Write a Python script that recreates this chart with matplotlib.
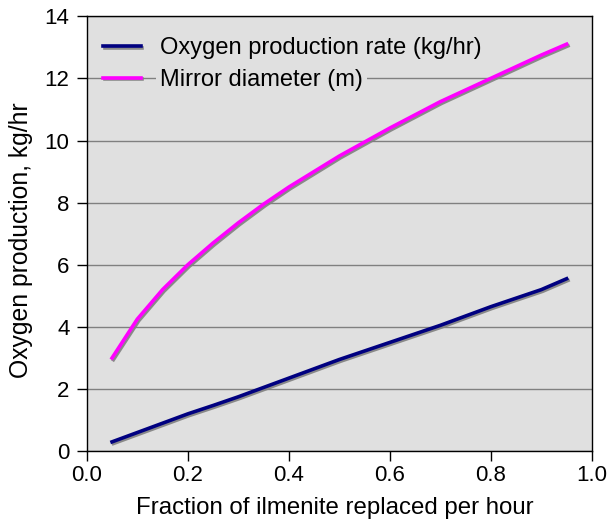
import matplotlib
matplotlib.use('Agg')
import matplotlib.pyplot as plt
import matplotlib.patheffects as pe

plt.rcParams['font.family'] = ['Liberation Sans', 'DejaVu Sans']

# fraction of ilmenite replaced per hour
fraction = [0.05, 0.1, 0.15, 0.2, 0.25, 0.3, 0.35, 0.4, 0.5, 0.6, 0.7, 0.8, 0.9, 0.95]
# oxygen production rate (kg/hr)
oxygen_rate = [0.3, 0.6, 0.9, 1.2, 1.47, 1.75, 2.05, 2.35, 2.95, 3.5, 4.05, 4.65, 5.2, 5.55]
# mirror diameter (m)
mirror_diam = [3.0, 4.25, 5.2, 6.0, 6.7, 7.35, 7.95, 8.5, 9.5, 10.4, 11.25, 12.0, 12.75, 13.1]

xticks = [0.0, 0.2, 0.4, 0.6, 0.8, 1.0]
yticks = [0, 2, 4, 6, 8, 10, 12, 14]

fig = plt.figure(figsize=(6.07, 5.24), dpi=100)
ax = fig.add_axes([0.143, 0.139, 0.832, 0.830])
bg = '#e0e0e0'
ax.set_facecolor(bg)

shadow = [pe.SimpleLineShadow(offset=(1, -1.2), shadow_color='#808080', alpha=0.9), pe.Normal()]
ax.plot(fraction, oxygen_rate, color='#000080', lw=2.6, path_effects=shadow,
        label='Oxygen production rate (kg/hr)')
ax.plot(fraction, mirror_diam, color='#ff00ff', lw=2.6, path_effects=shadow,
        label='Mirror diameter (m)')

ax.set_xlim(0, 1.0)
ax.set_ylim(0, 14)
ax.set_xticks(xticks)
ax.set_xticklabels(['%.1f' % v for v in xticks])
ax.set_yticks(yticks)
ax.yaxis.grid(True, color='#808080', lw=1)
ax.set_axisbelow(True)
ax.tick_params(labelsize=16, length=7, width=1, direction='out')
ax.tick_params(axis='x', pad=3)
ax.tick_params(axis='y', pad=5.5)
for s in ax.spines.values():
    s.set_color('black')
    s.set_linewidth(1)

ax.set_xlabel('Fraction of ilmenite replaced per hour', fontsize=17.3)
ax.set_ylabel('Oxygen production, kg/hr', fontsize=17.8)
ax.xaxis.set_label_coords(0.492, -0.105)
ax.yaxis.set_label_coords(-0.107, 0.485)

leg = ax.legend(loc='upper left', bbox_to_anchor=(0.0, 0.99), fontsize=17, frameon=False,
                handlelength=1.6, handletextpad=0.8, borderaxespad=0.3, labelspacing=0.42)
for t in leg.get_texts():
    t.set_bbox(dict(facecolor=bg, edgecolor='none', pad=3))

fig.savefig('out.png', dpi=100)
